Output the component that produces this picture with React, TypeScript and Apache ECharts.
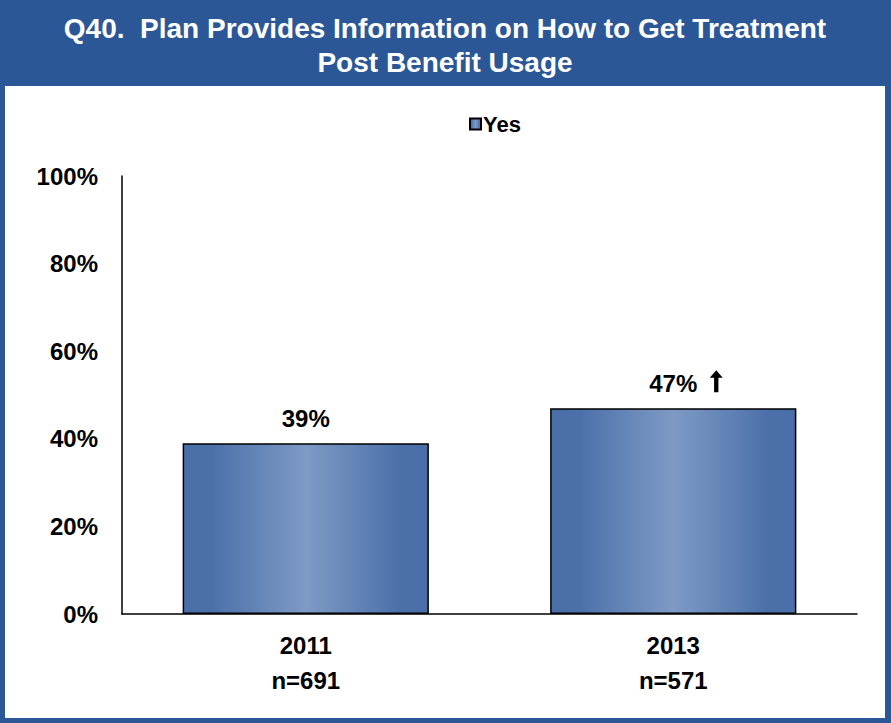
import React, { useEffect, useRef } from "react";
import * as echarts from "echarts";

const categories = ["2011", "2013"];
const sampleSizes = ["n=691", "n=571"];
const yesValues = [39, 47];
const significantUp = [false, true];
const yTicks = { min: 0, max: 100, interval: 20 };
const titleLines = ["Q40.  Plan Provides Information on How to Get Treatment", "Post Benefit Usage"];
const seriesName = "Yes";

const FONT = 'Arial, "Liberation Sans", Helvetica, sans-serif';
const ARROW_PATH = "path://M6,0 L12,7 L8,7 L8,20 L4,20 L4,7 L0,7 Z";

export default function App() {
  const ref = useRef<HTMLDivElement>(null);
  useEffect(() => {
    if (!ref.current) return;
    const chart = echarts.init(ref.current, null, { renderer: "svg" });
    const gradient = new echarts.graphic.LinearGradient(0, 0, 1, 0, [
      { offset: 0, color: "#4A6EA8" },
      { offset: 0.12, color: "#4C71AA" },
      { offset: 0.5, color: "#7E9AC5" },
      { offset: 0.88, color: "#4C71AA" },
      { offset: 1, color: "#4A6EA8" },
    ]);
    const arrowPoints = yesValues
      .map((v, i) => ({ v, i }))
      .filter((d) => significantUp[d.i])
      .map((d) => ({ coord: [categories[d.i], d.v], value: d.v }));
    chart.setOption({
      animation: false,
      backgroundColor: "#2B5797",
      graphic: [
        {
          type: "rect",
          shape: { x: 5, y: 86, width: 880, height: 632 },
          style: { fill: "#FFFFFF" },
          z: -10,
          silent: true,
        },
        {
          type: "text",
          x: 445,
          y: 11,
          style: {
            text: titleLines.join("\n"),
            fill: "#FFFFFF",
            font: "bold 28px " + FONT,
            lineHeight: 34,
            align: "center",
            verticalAlign: "top",
          },
        },
      ],
      legend: {
        data: [seriesName],
        left: 464,
        top: 108,
        icon: "rect",
        itemWidth: 11,
        itemHeight: 11,
        itemGap: 4,
        textStyle: { fontFamily: FONT, fontWeight: "bold", fontSize: 22, color: "#000", padding: [0, 0, 0, -3] },
      },
      grid: { left: 122, right: 34, top: 176, bottom: 109, containLabel: false },
      xAxis: {
        type: "category",
        data: categories,
        axisLine: { show: true, lineStyle: { color: "#000", width: 1.5 } },
        axisTick: { show: false },
        axisLabel: {
          formatter: (val: string, idx: number) => val + "\n" + sampleSizes[idx],
          fontFamily: FONT,
          fontWeight: "bold",
          fontSize: 24,
          lineHeight: 35,
          color: "#000",
          margin: 14,
        },
      },
      yAxis: {
        type: "value",
        min: yTicks.min,
        max: yTicks.max,
        interval: yTicks.interval,
        axisLine: { show: true, lineStyle: { color: "#000", width: 1.5 } },
        axisTick: { show: false },
        splitLine: { show: false },
        axisLabel: {
          formatter: "{value}%",
          fontFamily: FONT,
          fontWeight: "bold",
          fontSize: 24,
          color: "#000",
          margin: 24,
        },
      },
      series: [
        {
          name: seriesName,
          type: "bar",
          data: yesValues,
          barWidth: "67%",
          itemStyle: { color: gradient, borderColor: "#000", borderWidth: 1.5 },
          label: {
            show: true,
            position: "top",
            distance: 13,
            formatter: "{c}%",
            fontFamily: FONT,
            fontWeight: "bold",
            fontSize: 24,
            color: "#000",
          },
          markPoint: {
            silent: true,
            symbol: ARROW_PATH,
            symbolSize: [13, 22],
            symbolKeepAspect: false,
            symbolOffset: [43, -27],
            itemStyle: { color: "#000", borderWidth: 0 },
            label: { show: false },
            data: arrowPoints,
          },
        },
      ],
    });
    return () => chart.dispose();
  }, []);
  return (
    <div
      ref={ref}
      style={{ position: "fixed", left: 0, top: 0, width: 891, height: 723 }}
    />
  );
}
